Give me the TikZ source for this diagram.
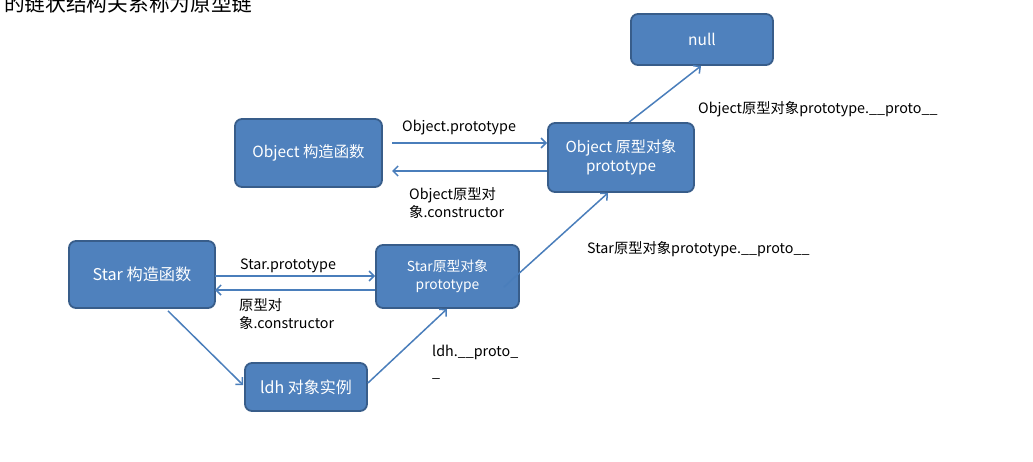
\documentclass[tikz,border=0pt]{standalone}
\usepackage{fontspec}
\setmainfont{Noto Sans CJK SC}
\usetikzlibrary{arrows.meta}
\definecolor{boxfill}{HTML}{4F81BD}
\definecolor{boxline}{HTML}{385D8A}
\definecolor{arrcol}{HTML}{4A7EBB}
\begin{document}
\begin{tikzpicture}[x=1pt,y=-1pt,
  box/.style={draw=boxline, fill=boxfill, rounded corners=7pt, line width=1.8pt,
    text=white, align=center, inner sep=0pt},
  arr/.style={draw=arrcol, line width=1.5pt, -{Straight Barb[length=5pt,width=10pt,line width=1.5pt]}},
  lbl/.style={inner sep=0pt, align=left, text=black, font=\fontsize{14.3}{17.5}\selectfont}
]
\useasboundingbox (0,0) rectangle (1033,461);
\begin{scope}
\clip (0,0) rectangle (1033,461);
\node[inner sep=0pt, anchor=base west, font=\fontsize{20.7}{24}\selectfont] (title) at (4,11) {的链状结构关系称为原型链};
\end{scope}

% boxes
\node[box, minimum width=142pt, minimum height=51pt, font=\fontsize{15.5}{19}\selectfont] (null) at (702,39.5) {null};
\node[box, minimum width=147pt, minimum height=68pt, font=\fontsize{15.4}{18}\selectfont] (objc) at (308.5,153) {Object 构造函数};
\node[box, minimum width=146pt, minimum height=69pt, font=\fontsize{15.2}{19}\selectfont] (objp) at (621,157.5) {Object 原型对象\\prototype};
\node[box, minimum width=146pt, minimum height=67pt, font=\fontsize{16.2}{19}\selectfont] (starc) at (142,274.5) {Star 构造函数};
\node[box, minimum width=143pt, minimum height=63pt, font=\fontsize{13.8}{18.5}\selectfont] (starp) at (447.5,276.5) {Star原型对象\\prototype};
\node[box, minimum width=122pt, minimum height=48pt, font=\fontsize{16}{19}\selectfont] (ldh) at (306,387) {ldh 对象实例};

% free ends
\coordinate (o1) at (392,143);
\coordinate (o2) at (392,171);
\coordinate (s1) at (215,276);
\coordinate (s2) at (215,290);

% connectors
\draw[arr] (o1) -- (objp.west |- o1);
\draw[arr] (objp.west |- o2) -- (o2);
\draw[arr] (s1) -- (starp.west |- s1);
\draw[arr] (starp.west |- s2) -- (s2);
\draw[arr] ([xshift=26pt,yshift=-2pt]starc.south) -- ([xshift=-1pt,yshift=2pt]ldh.west);
\draw[arr] ([yshift=4pt]ldh.east) -- ([xshift=-0.5pt]starp.south);
\draw[arr] ([xshift=-16pt,yshift=-10.5pt]starp.east) -- ([xshift=-13pt]objp.south);
\draw[arr] ([xshift=82pt]objp.north west) -- ([xshift=-1pt]null.south);

% labels (base = baseline of last line)
\node[lbl, anchor=base west] (l1) at (402,131) {Object.prototype};
\node[lbl, anchor=base west] (l2) at (409,217) {Object原型对\\象.constructor};
\node[lbl, anchor=base west] (l3) at (240,269) {Star.prototype};
\node[lbl, anchor=base west] (l4) at (239,328) {原型对\\象.constructor};
\node[lbl, anchor=base west, font=\fontsize{14.3}{21}\selectfont] (l5) at (432,377) {ldh.\_\_proto\_\\\_};
\node[lbl, anchor=base west] (l6) at (698,113) {Object原型对象prototype.\_\_proto\_\_};
\node[lbl, anchor=base west] (l7) at (587,253) {Star原型对象prototype.\_\_proto\_\_};
\end{tikzpicture}
\end{document}
